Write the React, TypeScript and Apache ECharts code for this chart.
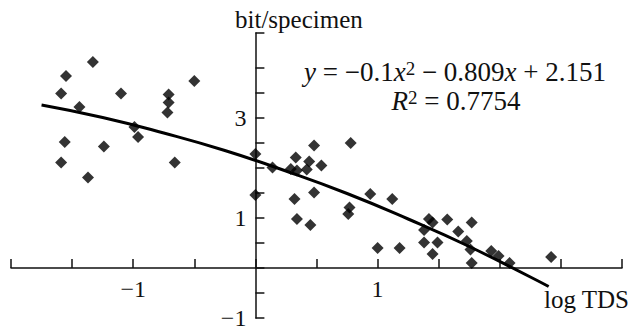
import React, { useEffect, useRef } from "react";
import * as echarts from "echarts";

// Scatter observations (log TDS, bit/specimen)
const pointsX = [
  -1.59, -1.55, -1.33, -1.44, -1.10, -0.71, -0.71, -0.72, -0.50, -0.99,
  -0.96, -1.56, -1.24, -1.59, -0.66, -1.37, 0.00, 0.00, 0.14, 0.33,
  0.29, 0.34, 0.48, 0.44, 0.42, 0.54, 0.78, 0.32, 0.48, 0.34,
  0.45, 0.77, 0.76, 0.94, 1.12, 1.00, 1.18, 1.42, 1.45, 1.38,
  1.57, 1.38, 1.49, 1.45, 1.66, 1.77, 1.73, 1.76, 1.77, 1.93,
  1.99, 2.08, 2.42,
];
const pointsY = [
  3.49, 3.84, 4.12, 3.22, 3.49, 3.47, 3.31, 3.11, 3.74, 2.82,
  2.62, 2.52, 2.43, 2.11, 2.11, 1.81, 2.28, 1.46, 2.01, 2.21,
  1.98, 1.95, 2.45, 2.13, 1.97, 2.05, 2.50, 1.38, 1.51, 0.98,
  0.86, 1.21, 1.08, 1.48, 1.38, 0.40, 0.40, 0.98, 0.91, 0.76,
  0.97, 0.51, 0.51, 0.28, 0.73, 0.91, 0.54, 0.37, 0.10, 0.34,
  0.24, 0.10, 0.22,
];

// Fitted trend line
const trendX = [-1.75, -1.25, -0.75, -0.25, 0.25, 0.75, 1.25, 1.75, 2.25, 2.4];
const trendY = [3.26, 3.01, 2.70, 2.35, 1.94, 1.49, 0.98, 0.43, -0.18, -0.37];

// Axis ticks and labels
const xTicks = [-2, -1.5, -1, -0.5, 0, 0.5, 1, 1.5, 2, 2.5, 3];
const xLabels = [-1, 1];
const yTicks = [-1, -0.5, 0, 0.5, 1, 1.5, 2, 2.5, 3, 3.5, 4, 4.7];
const yLabels = [-1, 1, 3];

const yAxisName = "bit/specimen";
const xAxisName = "log TDS";
const equationLine = "{i|y} = −0.1{i|x}{s|2} − 0.809{i|x} + 2.151";
const r2Line = "{i|R}{s|2} = 0.7754";

const SERIF = "Liberation Serif";
const INK = "#111111";

export default function App() {
  const ref = useRef<HTMLDivElement>(null);

  useEffect(() => {
    if (!ref.current) return;
    const chart = echarts.init(ref.current, null, { renderer: "svg" });
    const fmt = (v: number) => String(v).replace("-", "−");
    const rich = {
      i: { fontStyle: "italic", fontFamily: SERIF, fontSize: 27, fill: INK, color: INK },
      s: { fontFamily: SERIF, fontSize: 19, verticalAlign: "top", fill: INK, color: INK },
    };
    chart.setOption({
      animation: false,
      backgroundColor: "#ffffff",
      grid: { left: 11, right: 16, top: 33, bottom: 13, containLabel: false, outerBoundsMode: "none" },
      xAxis: {
        type: "value",
        min: -2,
        max: 3,
        interval: 0.5,
        position: "bottom",
        offset: -50,
        axisLine: { onZero: false, lineStyle: { color: INK, width: 1.5 } },
        axisTick: { show: true, inside: true, length: 9, customValues: xTicks, lineStyle: { color: INK, width: 1.5 } },
        axisLabel: {
          customValues: xLabels,
          formatter: fmt,
          fontFamily: SERIF,
          fontSize: 24,
          color: INK,
          margin: 9,
        },
        splitLine: { show: false },
      },
      yAxis: {
        type: "value",
        min: -1,
        max: 4.7,
        position: "left",
        offset: -244.4,
        axisLine: { onZero: false, lineStyle: { color: INK, width: 1.5 } },
        axisTick: { show: true, inside: true, length: 9, customValues: yTicks, lineStyle: { color: INK, width: 1.5 } },
        axisLabel: {
          customValues: yLabels,
          formatter: fmt,
          fontFamily: SERIF,
          fontSize: 24,
          color: INK,
          margin: 9,
        },
        splitLine: { show: false },
      },
      graphic: [
        {
          type: "text",
          x: 235,
          y: 19,
          style: { text: yAxisName, fontFamily: SERIF, fontSize: 25, fill: INK, align: "left", verticalAlign: "middle" },
        },
        {
          type: "text",
          x: 544,
          y: 299,
          style: { text: xAxisName, fontFamily: SERIF, fontSize: 25, fill: INK, align: "left", verticalAlign: "middle" },
        },
        {
          type: "text",
          x: 455,
          y: 72,
          style: {
            text: equationLine,
            fontFamily: SERIF,
            fontSize: 27,
            fill: INK,
            align: "center",
            verticalAlign: "middle",
            rich,
          },
        },
        {
          type: "text",
          x: 456,
          y: 101,
          style: {
            text: r2Line,
            fontFamily: SERIF,
            fontSize: 27,
            fill: INK,
            align: "center",
            verticalAlign: "middle",
            rich,
          },
        },
      ],
      series: [
        {
          type: "line",
          data: trendX.map((x, i) => [x, trendY[i]]),
          smooth: true,
          showSymbol: false,
          lineStyle: { color: "#000", width: 3 },
          z: 2,
        },
        {
          type: "scatter",
          data: pointsX.map((x, i) => [x, pointsY[i]]),
          symbol: "diamond",
          symbolSize: 12,
          itemStyle: { color: "#000" },
          z: 3,
        },
      ],
    });
    return () => chart.dispose();
  }, []);

  return (
    <div
      ref={ref}
      style={{ position: "fixed", left: 0, top: 0, width: 638, height: 331, background: "#fff" }}
    />
  );
}
